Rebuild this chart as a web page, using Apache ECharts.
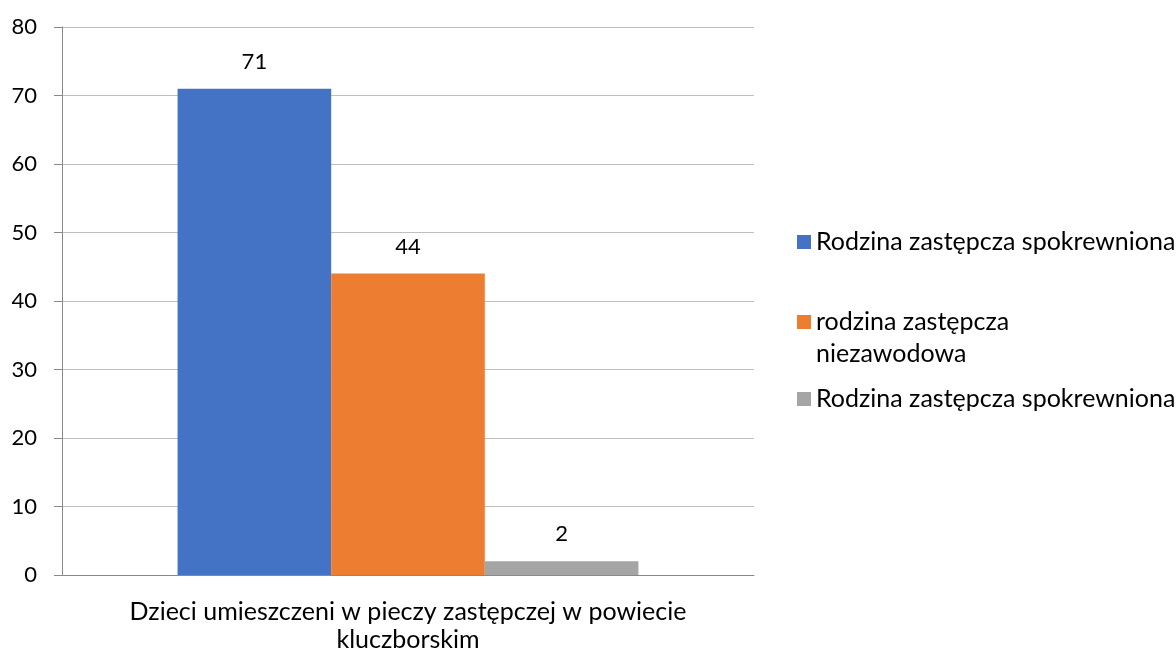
<!DOCTYPE html>
<html>
<head>
<meta charset="utf-8">
<script src="https://cdn.jsdelivr.net/npm/echarts@6/dist/echarts.min.js"></script>
<style>html,body{margin:0;padding:0;background:#fff}#c{width:1176px;height:652px}</style>
</head>
<body>
<div id="c"></div>
<script>
const categories = ['Dzieci umieszczeni w pieczy zastępczej w powiecie\nkluczborskim'];
const seriesNames = ['Rodzina zastępcza spokrewniona', 'rodzina zastępcza\nniezawodowa', 'Rodzina zastępcza spokrewniona'];
const seriesValues = [[71], [44], [2]];
const colors = ['#4472C4', '#ED7D31', '#A5A5A5'];
const yTicks = { min: 0, max: 80, interval: 10 };

const FONT = 'Lato';
const FS = 22;
const FS_TEXT = 25;
const ids = ['s0', 's1', 's2'];
const legendLH = [27, 32, 27];
const legendTops = [242 - 13.5, 322 - 48, 399 - 13.5];

const chart = echarts.init(document.getElementById('c'));
chart.setOption({
  animation: false,
  textStyle: { fontFamily: FONT },
  grid: { left: 62, right: 422, top: 27, bottom: 77, outerBoundsMode: 'none', containLabel: false },
  legend: ids.map((id, i) => ({
    orient: 'vertical',
    left: 797,
    top: legendTops[i],
    padding: 0,
    itemWidth: 14,
    itemHeight: 14,
    icon: 'rect',
    selectedMode: false,
    data: [id],
    formatter: () => (i === 1 ? '\n' : '') + seriesNames[i],
    textStyle: { fontFamily: FONT, fontSize: FS_TEXT, color: '#000', lineHeight: legendLH[i] }
  })),
  xAxis: {
    type: 'category',
    data: categories,
    axisLine: { lineStyle: { color: '#898989', width: 1 } },
    axisTick: { length: 8, lineStyle: { color: '#898989' } },
    axisLabel: { color: '#000', fontSize: FS_TEXT, fontFamily: FONT, margin: 23, lineHeight: 28, align: 'center' }
  },
  yAxis: {
    type: 'value',
    min: yTicks.min, max: yTicks.max, interval: yTicks.interval,
    axisLine: { show: true, lineStyle: { color: '#898989', width: 1 } },
    axisTick: { show: true, length: 8, lineStyle: { color: '#898989' } },
    axisLabel: { color: '#000', fontSize: FS, fontFamily: FONT, margin: 25 },
    splitLine: { lineStyle: { color: '#BFBFBF', width: 1 } }
  },
  series: ids.map((id, i) => ({
    type: 'bar',
    name: id,
    data: seriesValues[i],
    itemStyle: { color: colors[i] },
    barGap: '0%',
    barCategoryGap: '33.4%',
    label: { show: true, position: 'top', distance: 16, color: '#000', fontSize: FS, fontFamily: FONT }
  }))
});
</script>
</body>
</html>
